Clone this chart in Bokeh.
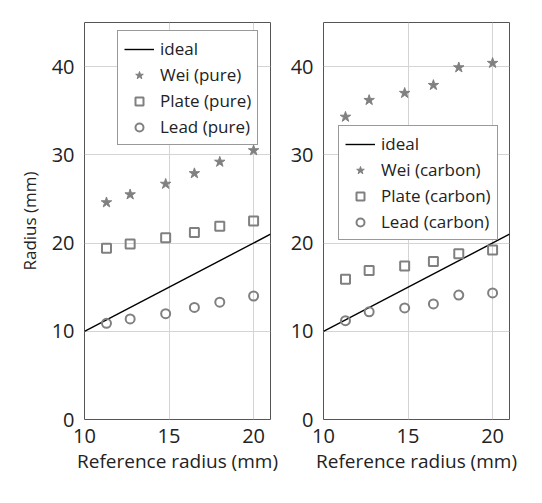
from bokeh.plotting import figure
from bokeh.layouts import row
from bokeh.models import Range1d, FixedTicker, Legend, LegendItem
from bokeh.embed import file_html
from bokeh.resources import INLINE

ref_x = [11.3, 12.7, 14.8, 16.5, 18.0, 20.0]
ideal_x = [10, 21]
ideal_y = [10, 21]
wei_pure = [24.6, 25.5, 26.7, 27.9, 29.2, 30.5]
plate_pure = [19.4, 19.9, 20.6, 21.2, 21.9, 22.5]
lead_pure = [10.9, 11.4, 12.0, 12.7, 13.3, 14.0]
wei_carbon = [34.3, 36.2, 37.0, 37.9, 39.9, 40.4]
plate_carbon = [15.9, 16.9, 17.4, 17.9, 18.8, 19.2]
lead_carbon = [11.2, 12.2, 12.65, 13.1, 14.1, 14.35]
x_ticks = [10, 15, 20]
y_ticks = [0, 10, 20, 30, 40]

FONT = "Open Sans"
GRAY = "#808080"
TXT = "#222222"


def make(wei, plate, lead, suffix, ylabel, loc, bl, br):
    p = figure(frame_width=186, frame_height=397, output_backend="svg",
               toolbar_location=None, x_range=Range1d(10, 21), y_range=Range1d(0, 45),
               min_border_left=bl, min_border_right=br, min_border_top=22,
               min_border_bottom=10)
    p.outline_line_color = "#555555"
    p.outline_line_width = 1
    p.background_fill_color = "white"
    p.border_fill_color = "white"
    for ax in (p.xaxis[0], p.yaxis[0]):
        ax.major_label_text_font = FONT
        ax.major_label_text_font_size = "20px"
        ax.major_label_text_color = TXT
        ax.axis_label_text_font = FONT
        ax.axis_label_text_font_style = "normal"
        ax.axis_label_text_color = TXT
        ax.axis_line_color = None
        ax.major_tick_line_color = None
        ax.minor_tick_line_color = None
    p.xaxis.ticker = FixedTicker(ticks=x_ticks)
    p.yaxis.ticker = FixedTicker(ticks=y_ticks)
    p.xaxis.axis_label = "Reference radius (mm)"
    p.xaxis.axis_label_text_font_size = "19px"
    p.xaxis.major_label_standoff = 3
    p.xaxis.axis_label_standoff = 2
    if ylabel:
        p.yaxis.axis_label = ylabel
        p.yaxis.axis_label_text_font_size = "17px"
        p.yaxis.axis_label_standoff = 8
    p.yaxis.major_label_standoff = 4
    p.grid.grid_line_color = "#d4d4d4"
    p.grid.grid_line_width = 1
    p.xgrid.ticker = FixedTicker(ticks=x_ticks)
    p.ygrid.ticker = FixedTicker(ticks=y_ticks)

    r_ideal = p.line(ideal_x, ideal_y, line_color="black", line_width=1.4)
    r_wei = p.scatter(ref_x, wei, marker="star", size=11, fill_color=GRAY,
                      line_color=GRAY, line_width=1)
    r_plate = p.scatter(ref_x, plate, marker="square", size=9, fill_color=None,
                        line_color=GRAY, line_width=2)
    r_lead = p.scatter(ref_x, lead, marker="circle", size=9, fill_color=None,
                       line_color=GRAY, line_width=2)
    legend = Legend(items=[
        LegendItem(label="ideal", renderers=[r_ideal]),
        LegendItem(label="Wei (%s)" % suffix, renderers=[r_wei]),
        LegendItem(label="Plate (%s)" % suffix, renderers=[r_plate]),
        LegendItem(label="Lead (%s)" % suffix, renderers=[r_lead]),
    ], location=loc)
    legend.label_text_font = FONT
    legend.label_text_font_size = "17px"
    legend.label_text_color = TXT
    legend.glyph_width = 30
    legend.glyph_height = 20
    legend.label_height = 20
    legend.spacing = 3
    legend.padding = 6
    legend.margin = 0
    legend.label_standoff = 6
    legend.border_line_color = "#333333"
    legend.border_line_width = 1
    legend.background_fill_alpha = 1
    p.add_layout(legend, "center")
    return p


left = make(wei_pure, plate_pure, lead_pure, "pure", "Radius (mm)", (33, 274), 84, 16)
right = make(wei_carbon, plate_carbon, lead_carbon, "carbon", None, (15, 179), 37, 20)
layout = row(left, right, spacing=0)
open("out.html", "w").write(file_html(layout, INLINE))
